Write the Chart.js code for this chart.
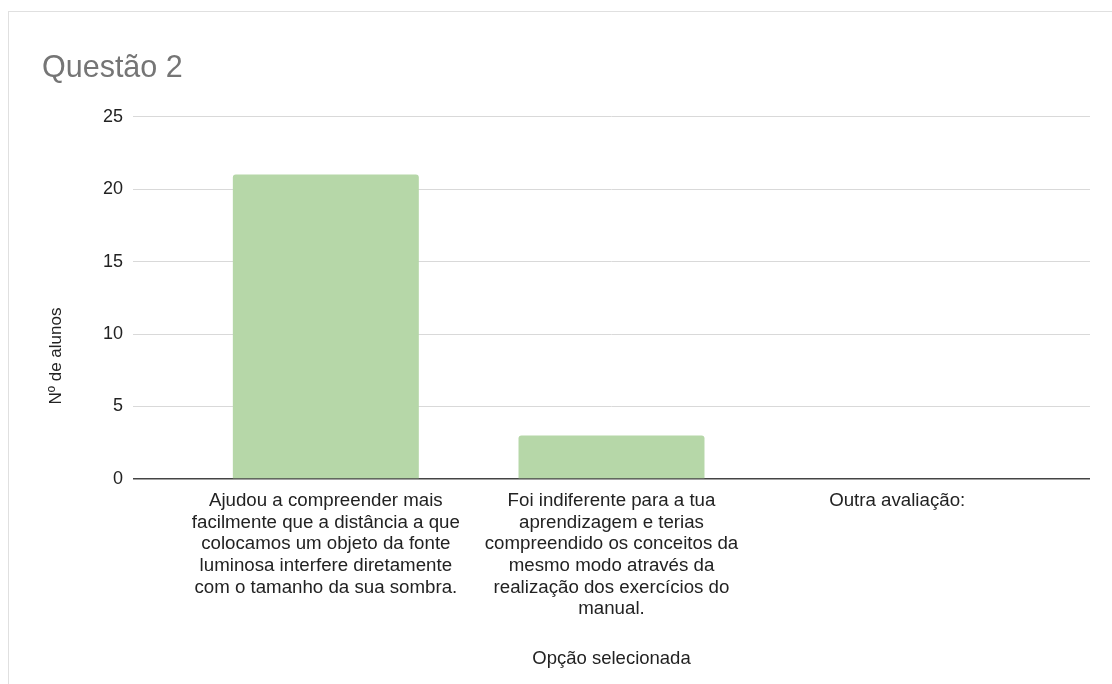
<!DOCTYPE html>
<html>
<head>
<meta charset="utf-8">
<title>Questão 2</title>
<script src="https://cdn.jsdelivr.net/npm/chart.js@4"></script>
<style>
    html, body { margin: 0; padding: 0; background: #fff; overflow: hidden; }
    #frame {
        position: absolute; left: 8px; top: 11px; width: 1200px; height: 800px;
        border-top: 1px solid #e0e0e0; border-left: 1px solid #e0e0e0;
    }
    #wrap { position: absolute; left: 0; top: 0; width: 1112px; height: 684px; }
</style>
</head>
<body>
<div id="frame"></div>
<div id="wrap"><canvas id="chart"></canvas></div>
<script>
// Answer options (one array per option, split into lines)
var optionLabels = [
    ['Ajudou a compreender mais', 'facilmente que a distância a que', 'colocamos um objeto da fonte', 'luminosa interfere diretamente', 'com o tamanho da sua sombra.'],
    ['Foi indiferente para a tua', 'aprendizagem e terias', 'compreendido os conceitos da', 'mesmo modo através da', 'realização dos exercícios do', 'manual.'],
    ['Outra avaliação:']
];
var studentCounts = [21, 3, 0];
var yTicks = [0, 5, 10, 15, 20, 25];

var FONT = '"Liberation Sans", Arial, sans-serif';

// y axis title sits a little lower than the plot middle, so draw it by hand
var yTitlePlugin = {
    id: 'yTitle',
    afterDraw: function(chart) {
        var ctx = chart.ctx;
        ctx.save();
        ctx.translate(56, 356);
        ctx.rotate(-Math.PI / 2);
        ctx.font = '17px ' + FONT;
        ctx.fillStyle = '#222';
        ctx.textAlign = 'center';
        ctx.textBaseline = 'middle';
        ctx.fillText('Nº de alunos', 0, 0);
        ctx.restore();
    }
};

var points = studentCounts.map(function(v, i) { return { x: i, y: v }; });

new Chart(document.getElementById('chart'), {
    type: 'bar',
    data: {
        datasets: [{
            label: 'Nº de alunos',
            data: points,
            backgroundColor: '#b6d7a8',
            borderRadius: { topLeft: 3, topRight: 3 },
            borderSkipped: 'start',
            categoryPercentage: 1,
            barPercentage: 0.651
        }]
    },
    options: {
        responsive: true,
        maintainAspectRatio: false,
        animation: false,
        layout: { padding: { left: 42, right: 22, top: 0, bottom: 14 } },
        plugins: {
            legend: { display: false },
            tooltip: { enabled: false },
            title: {
                display: true,
                text: 'Questão 2',
                align: 'start',
                color: '#757575',
                font: { family: FONT, size: 30.5, weight: 'normal', lineHeight: 1.2 },
                padding: { top: 50, bottom: 30 }
            }
        },
        scales: {
            x: {
                type: 'linear',
                offset: false,
                min: -0.675,
                max: studentCounts.length - 1 + 0.675,
                grid: { display: false, offset: false },
                border: { display: false },
                afterBuildTicks: function(scale) {
                    scale.ticks = optionLabels.map(function(_, i) { return { value: i }; });
                },
                afterFit: function(scale) { scale.height = 684 - 479 - 14; },
                ticks: {
                    autoSkip: false,
                    maxRotation: 0,
                    padding: 3,
                    color: '#222',
                    font: { family: FONT, size: 18.7, lineHeight: 1.16 },
                    callback: function(value) { return optionLabels[value]; }
                },
                title: {
                    display: true,
                    text: 'Opção selecionada',
                    color: '#222',
                    font: { family: FONT, size: 18.5, lineHeight: 1.2 },
                    padding: { top: 0, bottom: 0 }
                }
            },
            y: {
                min: 0,
                max: 25,
                afterBuildTicks: function(scale) {
                    scale.ticks = yTicks.map(function(v) { return { value: v }; });
                },
                afterFit: function(scale) { scale.width = 133 - 42; },
                border: { display: false },
                grid: {
                    drawTicks: false,
                    color: function(c) { return c.tick && c.tick.value === 0 ? '#444' : '#d9d9d9'; },
                    lineWidth: function(c) { return c.tick && c.tick.value === 0 ? 1.5 : 1; }
                },
                ticks: {
                    padding: 10,
                    color: '#222',
                    font: { family: FONT, size: 18 }
                }
            }
        }
    },
    plugins: [yTitlePlugin]
});
</script>
</body>
</html>
